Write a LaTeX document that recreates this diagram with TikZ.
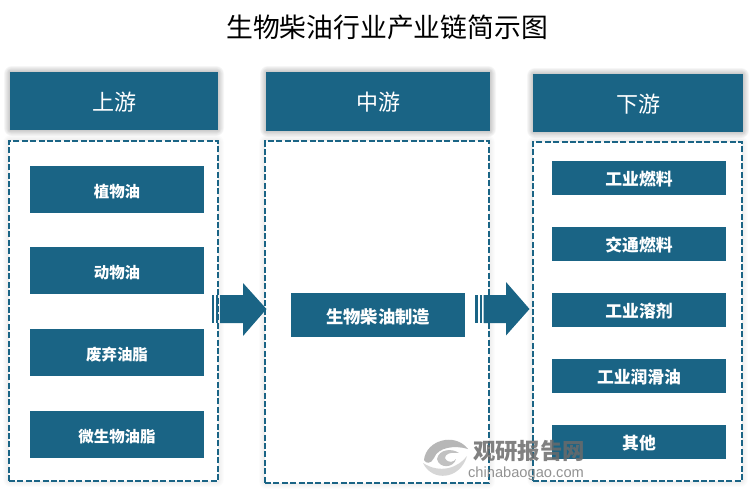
\documentclass[tikz,border=0pt]{standalone}
\usepackage{fontspec}
\setmainfont{Noto Sans CJK SC}
\setsansfont{Liberation Sans}
\usetikzlibrary{calc}
\definecolor{chainblue}{HTML}{1A6485}
\def\softshadow[#1](#2,#3)(#4,#5){\foreach \s in {1,2,...,6}{\fill[black,opacity=#1,rounded corners=\s pt] ({#2-\s},{#3-\s}) rectangle ({#4+\s},{#5+\s});}}
\tikzset{
	headbox/.style={fill=chainblue,text=white,inner sep=0pt,minimum height=43.5pt,text height=15.5pt,text depth=1.5pt,font=\fontsize{16.5}{18}\selectfont},
	framebox/.style={draw=chainblue,fill=white,dash pattern=on 4.5pt off 1.8pt,line width=1.1pt,inner sep=0pt},
	leftbox/.style={fill=chainblue,text=white,inner sep=0pt,minimum width=130.5pt,minimum height=35.25pt,text height=13pt,text depth=1.5pt,font=\fontsize{11.6}{14}\bfseries\selectfont},
	rightbox/.style={leftbox,minimum height=25.5pt,font=\fontsize{12.6}{14}\bfseries\selectfont},
	midbox/.style={leftbox,minimum height=33pt,text height=14pt,font=\fontsize{13}{15}\bfseries\selectfont},
	blockarrow/.style={fill=chainblue},
}
\begin{document}
\begin{tikzpicture}[x=0.75pt,y=-0.75pt]
	\useasboundingbox (0,0) rectangle (750,494);
	
	\node (title) at (387,27) {\fontsize{20.1}{22}\selectfont 生物柴油行业产业链简示图};
	
	%%%%% shadows %%%%%
	\softshadow[0.035](10,72)(218,130);
	\softshadow[0.035](266,72)(490,131);
	\softshadow[0.035](533,74)(743,132);
	\softshadow[0.012](9,141)(218,481);
	\softshadow[0.012](265,141)(489,483);
	\softshadow[0.012](533,142)(742,481);
	
	%%%%% columns %%%%%
	\node[headbox,minimum width=156pt] (upstream) at (114,101) {上游};
	\node[headbox,minimum width=168pt,minimum height=44.25pt] (midstream) at (378,101.5) {中游};
	\node[headbox,minimum width=157.5pt] (downstream) at (638,103) {下游};
	
	\node[framebox,minimum width=156.75pt,minimum height=255pt] (upframe) at (113.5,311) {};
	\node[framebox,minimum width=168pt,minimum height=256.5pt] (midframe) at (377,312) {};
	\node[framebox,minimum width=156.75pt,minimum height=254.25pt] (downframe) at (637.5,311.5) {};
	
	%%%%% items %%%%%
	\node[leftbox] (plantoil) at (117,189.5) {植物油};
	\node[leftbox] (animaloil) at (117,270.5) {动物油};
	\node[leftbox] (wasteoil) at (117,352.5) {废弃油脂};
	\node[leftbox] (microoil) at (117,434.5) {微生物油脂};
	
	\node[midbox] (biodiesel) at (378,315) {生物柴油制造};
	
	\node[rightbox] (fuel) at (639,178) {工业燃料};
	\node[rightbox] (transport) at (639,244) {交通燃料};
	\node[rightbox] (solvent) at (639,310) {工业溶剂};
	\node[rightbox] (lube) at (639,376) {工业润滑油};
	\node[rightbox] (other) at (639,442) {其他};
	
	%%%%% arrows %%%%%
	\fill[blockarrow] (212,295) rectangle (214,323);
	\fill[blockarrow] (215.5,295) rectangle (217.5,323);
	\fill[blockarrow] (220,295) -- (243,295) -- (243,283) -- (266.5,309) -- (243,336) -- (243,323) -- (220,323) -- cycle;
	
	\fill[blockarrow] (475,295) rectangle (477.5,323);
	\fill[blockarrow] (479.5,295) rectangle (482,323);
	\fill[blockarrow] (483.5,295) -- (506,295) -- (506,282) -- (529.5,309) -- (506,335.5) -- (506,323) -- (483.5,323) -- cycle;
	
	%%%%% watermark %%%%%
	\fill[black!35,opacity=0.8] (424,460) .. controls (426,440) and (455,432) .. (468,449) .. controls (455,445) and (438,447) .. (434,458) .. controls (431,464) and (426,464) .. (424,460) -- cycle;
	\fill[black!20,opacity=0.8] (423,463) .. controls (432,482) and (460,480) .. (467,456) .. controls (458,468) and (440,474) .. (423,463) -- cycle;
	\fill[black!30,opacity=0.8] (437,459) .. controls (439,449) and (452,448) .. (459,453) .. controls (450,452) and (445,454) .. (445,458) .. controls (448,464) and (454,462) .. (456,459) .. controls (454,468) and (439,469) .. (437,459) -- cycle;
	\node[text=black!58,opacity=0.85,font=\fontsize{16.8}{18}\bfseries\selectfont] (wmark) at (529,451) {观研报告网};
	\node[text=black!50,opacity=0.85,font=\sffamily\fontsize{11}{12}\selectfont] (wmurl) at (526,473.5) {chinabaogao.com};
\end{tikzpicture}
\end{document}
